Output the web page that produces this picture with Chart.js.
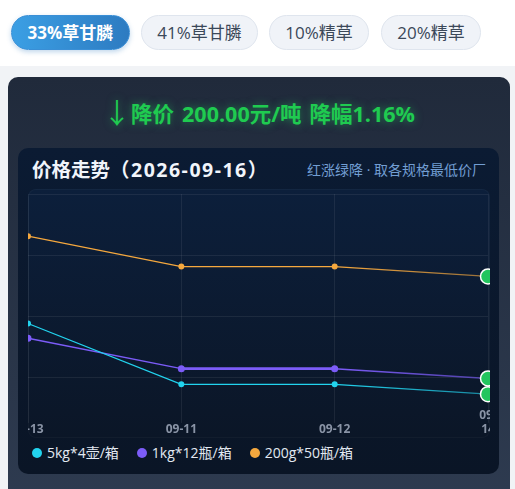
<!DOCTYPE html>
<html lang="zh-CN">
<head>
<meta charset="UTF-8">
<title>价格走势</title>
<script src="https://cdn.jsdelivr.net/npm/chart.js@4.4.1/dist/chart.umd.min.js"></script>
<style>
    * { box-sizing: border-box; margin: 0; padding: 0; }
    body {
        width: 515px; height: 489px; overflow: hidden; position: relative;
        background: #f1f3f6;
        font-family: "Open Sans", "Noto Sans CJK SC", sans-serif;
    }
    /* ---- spec tabs ---- */
    .tabs { position: absolute; left: 0; top: 0; width: 515px; height: 66px; background: #fff; }
    .tab {
        position: absolute; top: 15px; height: 35px; line-height: 33px;
        border-radius: 18px; text-align: center; font-size: 17px;
        background: #f0f3f8; border: 1px solid #dfe5ee; color: #3b4859;
    }
    .tab.active {
        background: linear-gradient(90deg, #3b9fe4, #2d7bc1); border-color: #3a8fd6;
        color: #fff; font-weight: bold; box-shadow: 0 2px 5px rgba(45,123,193,0.3);
    }
    /* ---- dark card ---- */
    .card {
        position: absolute; left: 8px; top: 77px; width: 502px; height: 430px;
        border-radius: 10px; background: linear-gradient(180deg, #202a3b, #2e3b50);
    }
    .headline {
        position: absolute; left: 0; top: 21px; width: 100%; height: 30px; line-height: 30px;
        text-align: center; color: #1fcb50; font-size: 21.5px; font-weight: bold;
        text-shadow: 0 0 8px rgba(34,197,94,0.55); white-space: nowrap;
    }
    .headline .arrow { font-weight: normal; font-size: 28px; vertical-align: -2px; margin-right: 0; }
    .headline .gap { margin-left: 8px; }
    .box {
        position: absolute; left: 10px; top: 71px; width: 481px; height: 326px;
        border-radius: 10px; background: linear-gradient(180deg, #0b1b33, #0a1526);
    }
    .title {
        position: absolute; left: 14px; top: 8px; line-height: 28px;
        font-size: 19.5px; font-weight: bold; color: #f1f5fb;
    }
    .title .date { letter-spacing: 1.5px; }
    .sub {
        position: absolute; right: 13px; top: 11px; line-height: 22px;
        font-size: 14px; color: #729ed3;
    }
    .plot {
        position: absolute; left: 10px; top: 41px; width: 462px; height: 249px;
        border-radius: 8px; overflow: hidden;
        background: linear-gradient(180deg, #0c1f3b, #0b1627);
        box-shadow: inset 0 0 0 1px rgba(255,255,255,0.03);
    }
    .plot .wrap { position: absolute; left: -20px; top: -4px; width: 500px; height: 252px; }
    .legend {
        position: absolute; left: 14px; top: 295px; height: 20px; line-height: 20px;
        display: flex; font-size: 14px; color: #e3e9f2;
    }
    .legend span { display: flex; align-items: center; margin-right: 18px; }
    .legend i { display: inline-block; width: 10px; height: 10px; border-radius: 50%; margin-right: 5px; }
</style>
</head>
<body>
<div class="tabs">
    <div class="tab active" style="left:11px;width:119px">33%草甘膦</div>
    <div class="tab" style="left:141px;width:117px">41%草甘膦</div>
    <div class="tab" style="left:269px;width:100px">10%精草</div>
    <div class="tab" style="left:381px;width:100px">20%精草</div>
</div>
<div class="card">
    <div class="headline"><span class="arrow">↓</span>降价<span class="gap">200.00元/吨</span><span class="gap">降幅1.16%</span></div>
    <div class="box">
        <div class="title">价格走势<span class="date">（2026-09-16）</span></div>
        <div class="sub">红涨绿降 · 取各规格最低价厂</div>
        <div class="plot"><div class="wrap"><canvas id="trendChart"></canvas></div></div>
        <div class="legend" id="trendLegend"></div>
    </div>
</div>
<script>
// ---- data (元/吨, lowest price per pack size) ----
const dateLabels = ['08-13', '09-11', '09-12', ['09-', '14']];
const seriesNames = ['5kg*4壶/箱', '1kg*12瓶/箱', '200g*50瓶/箱'];
const price5kg = [15360, 14120, 14120, 13920];
const price1kg = [15060, 14440, 14440, 14240];
const price200g = [17140, 16520, 16520, 16320];
const yTicks = [14250, 15500, 16750, 18000];
const yMin = 13680;
const yMax = 18000;

const seriesColors = ['#22d3ee', '#7c5cf8', '#f5a83e'];
const downColor = '#22c55e';

// last segment fades out towards the latest point
function fadeSegment(color) {
    return ctx => {
        if (ctx.p0DataIndex !== 2) return undefined;
        const g = ctx.chart.ctx.createLinearGradient(ctx.p0.x, 0, ctx.p1.x, 0);
        g.addColorStop(0, color);
        g.addColorStop(1, color + '99');
        return g;
    };
}

function makeSet(i, values, width) {
    const last = values.length - 1;
    return {
        label: seriesNames[i],
        data: values,
        borderColor: seriesColors[i],
        borderWidth: width,
        tension: 0,
        segment: { borderColor: fadeSegment(seriesColors[i]) },
        pointRadius: ctx => ctx.dataIndex === last ? 7.5 : 3,
        pointBackgroundColor: ctx => ctx.dataIndex === last ? downColor : seriesColors[i],
        pointBorderColor: ctx => ctx.dataIndex === last ? '#ffffff' : seriesColors[i],
        pointBorderWidth: ctx => ctx.dataIndex === last ? 1.5 : 0,
    };
}

document.addEventListener('DOMContentLoaded', function () {
    const sets = [
        makeSet(0, price5kg, 1.3),
        makeSet(1, price1kg, 1.5),
        makeSet(2, price200g, 1.3),
    ];
    sets[1].segment.borderWidth = ctx => ctx.p0DataIndex === 1 ? 2.6 : 1.5;
    sets[1].pointRadius = ctx => ctx.dataIndex === 3 ? 7.5 : 3.5;

    new Chart(document.getElementById('trendChart'), {
        type: 'line',
        data: { labels: dateLabels, datasets: sets },
        options: {
            responsive: true,
            maintainAspectRatio: false,
            animation: false,
            layout: { padding: { left: 20, right: 20, top: 1, bottom: 0 } },
            plugins: { legend: { display: false }, tooltip: { enabled: false } },
            scales: {
                x: {
                    offset: false,
                    border: { display: false },
                    grid: { color: 'rgba(255,255,255,0.07)', tickLength: 17 },
                    ticks: {
                        padding: -7, maxRotation: 0, autoSkip: false, crossAlign: 'far',
                        color: '#8a94a6',
                        font: { family: 'Open Sans', size: 12, weight: 'bold', lineHeight: 1.17 },
                    },
                },
                y: {
                    min: yMin,
                    max: yMax,
                    border: { display: false },
                    grid: { color: 'rgba(255,255,255,0.07)', drawTicks: false },
                    ticks: { display: false },
                    afterBuildTicks: axis => { axis.ticks = yTicks.map(v => ({ value: v })); },
                },
            },
        },
    });

    // ---- html legend ----
    document.getElementById('trendLegend').innerHTML = seriesNames
        .map((name, i) => `<span><i style="background:${seriesColors[i]}"></i>${name}</span>`)
        .join('');
});
</script>
</body>
</html>
